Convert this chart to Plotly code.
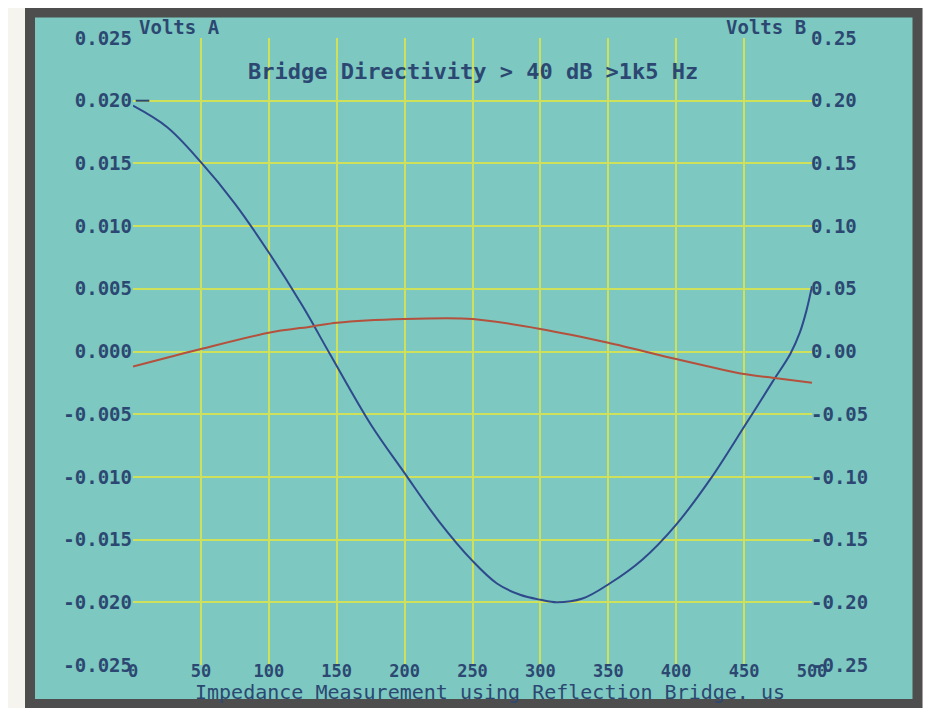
import plotly.graph_objects as go

# ---- data ----
time_us = [0, 25, 50, 75, 100, 125, 145, 175, 200, 225, 250, 268, 285, 300, 312, 331,
           351, 375, 400, 425, 450, 460, 471, 484, 491, 496, 500]
volts_a = [0.0196, 0.0179, 0.0151, 0.0118, 0.0079, 0.0036, -0.0002, -0.0058, -0.0097,
           -0.0135, -0.0167, -0.0185, -0.0194, -0.0198, -0.0200, -0.0197,
           -0.0185, -0.0166, -0.0138, -0.0102, -0.0060, -0.0043, -0.0024, -0.0002,
           0.0015, 0.0033, 0.0052]

time_b = [0, 50, 100, 132, 150, 200, 250, 300, 350, 400, 450, 471, 500]
volts_b = [-0.012, 0.002, 0.015, 0.020, 0.023, 0.026, 0.026, 0.018, 0.007,
           -0.006, -0.018, -0.021, -0.025]

x_ticks = [0, 50, 100, 150, 200, 250, 300, 350, 400, 450, 500]
ya_ticks = [0.025, 0.020, 0.015, 0.010, 0.005, 0.000, -0.005, -0.010, -0.015, -0.020, -0.025]
ya_labels = ["0.025", "0.020", "0.015", "0.010", "0.005", "0.000",
             "-0.005", "-0.010", "-0.015", "-0.020", "-0.025"]
yb_ticks = [0.25, 0.20, 0.15, 0.10, 0.05, 0.00, -0.05, -0.10, -0.15, -0.20, -0.25]
yb_labels = ["0.25", "0.20", "0.15", "0.10", "0.05", "0.00",
             "-0.05", "-0.10", "-0.15", "-0.20", "-0.25"]

title_text = "Bridge Directivity > 40 dB >1k5 Hz"
x_title = "Impedance Measurement using Reflection Bridge. us"

# ---- style ----
TEAL = "#7dc8c0"
GRID = "#cfe05a"
INK = "#2c4872"
BLUE = "#2e4a8c"
RED = "#b4503c"
FRAME = "#4e4e4e"
FONT = "DejaVu Sans Mono"

fig = go.Figure()
fig.add_trace(go.Scatter(x=time_us, y=volts_a, mode="lines",
                         line=dict(color=BLUE, width=2, shape="spline", smoothing=1.0),
                         yaxis="y", showlegend=False, hoverinfo="skip"))
fig.add_trace(go.Scatter(x=time_b, y=volts_b, mode="lines",
                         line=dict(color=RED, width=2, shape="spline", smoothing=0.8),
                         yaxis="y2", showlegend=False, hoverinfo="skip"))

# the page has an 8px body margin, so the figure sits at (8, 8)
OFF = 8
W, H = 931 - OFF, 708 - OFF
L, R, T, B = 133 - OFF, 119, 38 - OFF, 43
pw, ph = W - L - R, H - T - B


def px_x(p):  # picture pixel -> paper x
    return (p - OFF - L) / pw


def px_y(p):  # picture pixel -> paper y
    return (H - B - (p - OFF)) / ph


# frame + teal panel
fig.add_shape(type="rect", xref="paper", yref="paper", layer="below",
              x0=px_x(30), x1=px_x(917.5), y0=px_y(704), y1=px_y(12.5),
              fillcolor=TEAL, line=dict(color=FRAME, width=10))
# small dash near 0.020
fig.add_shape(type="line", xref="x", yref="y", x0=2, x1=12, y0=0.020, y1=0.020,
              line=dict(color=INK, width=2))

tickfont = dict(family=FONT, size=19, color=INK, weight="bold")
xtickfont = dict(family=FONT, size=17, color=INK, weight="bold")

fig.update_layout(
    width=W, height=H,
    margin=dict(l=L, r=R, t=T, b=B),
    paper_bgcolor="#f6f4ef",
    plot_bgcolor="rgba(0,0,0,0)",
    font=dict(family=FONT, color=INK),
    xaxis=dict(range=[0, 500], tickvals=x_ticks, ticktext=[str(v) for v in x_ticks],
               showgrid=True, gridcolor=GRID, gridwidth=2, zeroline=False,
               showline=False, ticks="", tickfont=xtickfont, ticklabelstandoff=-6),
    yaxis=dict(range=[-0.025, 0.025], tickvals=ya_ticks, ticktext=ya_labels,
               showgrid=True, gridcolor=GRID, gridwidth=2, zeroline=False,
               showline=False, ticks="", tickfont=tickfont, ticklabelstandoff=0),
    yaxis2=dict(range=[-0.25, 0.25], tickvals=yb_ticks, ticktext=yb_labels,
                overlaying="y", side="right", showgrid=False, zeroline=False,
                showline=False, ticks="", tickfont=tickfont, ticklabelstandoff=-2),
)

fig.add_annotation(text="Volts A", xref="paper", yref="paper", x=px_x(137), y=px_y(27),
                   xanchor="left", yanchor="middle", showarrow=False,
                   font=dict(family=FONT, size=19, color=INK, weight="bold"))
fig.add_annotation(text="Volts B", xref="paper", yref="paper", x=px_x(808), y=px_y(27),
                   xanchor="right", yanchor="middle", showarrow=False,
                   font=dict(family=FONT, size=19, color=INK, weight="bold"))
fig.add_annotation(text=title_text, xref="paper", yref="paper", x=0.5, y=px_y(72),
                   xanchor="center", yanchor="middle", showarrow=False,
                   font=dict(family=FONT, size=22, color=INK, weight="bold"))
fig.add_annotation(text=x_title, xref="paper", yref="paper", x=px_x(490), y=px_y(692),
                   xanchor="center", yanchor="middle", showarrow=False,
                   font=dict(family=FONT, size=20, color=INK))

fig.write_html("out.html")
